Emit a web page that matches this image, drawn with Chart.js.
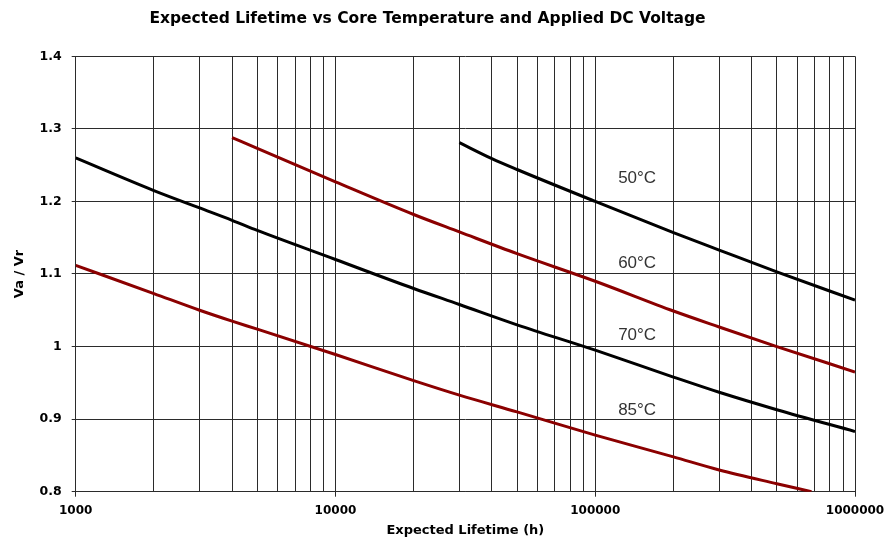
<!DOCTYPE html>
<html>
<head>
<meta charset="utf-8">
<script src="https://cdn.jsdelivr.net/npm/chart.js@4.4.1/dist/chart.umd.min.js"></script>
<style>
  html, body { margin: 0; padding: 0; background: #fff; }
  #wrap { width: 887px; height: 550px; }
</style>
</head>
<body>
<div id="wrap"><canvas id="lifetimeChart"></canvas></div>
<script>
// values: lifetime (h) -> Va/Vr
const life50 = [30000, 40000, 50000, 100000, 200000, 300000, 500000, 1000000];
const volt50 = [1.281, 1.259, 1.244, 1.200, 1.157, 1.133, 1.103, 1.064];

const life60 = [4000, 5000, 10000, 20000, 30000, 50000, 100000, 200000, 300000, 500000, 1000000];
const volt60 = [1.288, 1.273, 1.227, 1.182, 1.158, 1.128, 1.090, 1.049, 1.027, 1.000, 0.965];

const life70 = [1000, 2000, 3000, 4000, 5000, 10000, 20000, 30000, 50000, 100000, 200000, 300000, 500000, 1000000];
const volt70 = [1.260, 1.215, 1.191, 1.174, 1.160, 1.120, 1.080, 1.058, 1.030, 0.995, 0.958, 0.937, 0.913, 0.883];

const life85 = [1000, 2000, 3000, 4000, 5000, 10000, 20000, 30000, 50000, 100000, 200000, 300000, 500000, 680000];
const volt85 = [1.112, 1.073, 1.050, 1.035, 1.024, 0.989, 0.953, 0.933, 0.910, 0.878, 0.848, 0.830, 0.811, 0.800];

// labelled decades on the x axis, minor gridlines in between
const decades = [1000, 10000, 100000, 1000000];
const minorSteps = [2, 3, 4, 5, 6, 7, 8, 9];

// curve names and where they sit on the plot
const curveNames = ['50°C', '60°C', '70°C', '85°C'];
const nameLife = 145000;
const nameVolt = [1.232, 1.115, 1.016, 0.912];

const gridColor = '#2b2b2b';
const boldFont = 'DejaVu Sans';

const xGrid = [];
decades.forEach(function (d, i) {
  xGrid.push(d);
  if (i < decades.length - 1) {
    minorSteps.forEach(function (m) { xGrid.push(m * d); });
  }
});

function toPoints(xs, ys) {
  return xs.map(function (x, i) { return { x: x, y: ys[i] }; });
}

function curve(label, xs, ys, color) {
  return {
    label: label,
    data: toPoints(xs, ys),
    borderColor: color,
    borderWidth: 3,
    pointRadius: 0,
    tension: 0.4,
    cubicInterpolationMode: 'monotone',
    fill: false,
  };
}

const curveNamePlugin = {
  id: 'curveNames',
  afterDatasetsDraw(chart) {
    const ctx = chart.ctx;
    const x = chart.scales.x.getPixelForValue(nameLife);
    ctx.save();
    ctx.font = '17px "Liberation Sans", Arial, sans-serif';
    ctx.fillStyle = '#333';
    ctx.textAlign = 'center';
    ctx.textBaseline = 'middle';
    curveNames.forEach(function (name, i) {
      ctx.fillText(name, x, chart.scales.y.getPixelForValue(nameVolt[i]));
    });
    ctx.restore();
  },
};

const ctx = document.getElementById('lifetimeChart').getContext('2d');

const lifetimeChart = new Chart(ctx, {
  type: 'line',
  data: {
    datasets: [
      curve('50°C', life50, volt50, '#000000'),
      curve('60°C', life60, volt60, '#8b0000'),
      curve('70°C', life70, volt70, '#000000'),
      curve('85°C', life85, volt85, '#8b0000'),
    ],
  },
  options: {
    responsive: true,
    maintainAspectRatio: false,
    animation: false,
    layout: { padding: { left: 0, right: 32, top: 0, bottom: 0 } },
    plugins: {
      legend: { display: false },
      tooltip: { enabled: false },
      title: {
        display: true,
        text: 'Expected Lifetime vs Core Temperature and Applied DC Voltage',
        color: '#000',
        font: { family: boldFont, size: 15.5, weight: 'bold' },
        padding: { top: 9.5, bottom: 28.2 },
      },
    },
    scales: {
      x: {
        type: 'logarithmic',
        min: 1000,
        max: 1000000,
        afterBuildTicks(scale) {
          scale.ticks = xGrid.map(function (v) { return { value: v }; });
        },
        afterFit(scale) {
          scale.height = 58.3;
          // let the last label hang into the right margin
          scale.paddingRight = 0;
          scale.paddingLeft = 0;
        },
        ticks: {
          autoSkip: false,
          maxRotation: 0,
          padding: 7,
          color: '#000',
          font: { family: boldFont, size: 12, weight: 'bold' },
          callback: function (value) {
            return decades.includes(value) ? String(value) : '';
          },
        },
        grid: {
          color: gridColor,
          lineWidth: 1,
          tickLength: 5,
          tickColor: function (c) {
            return c.tick && decades.includes(c.tick.value) ? gridColor : 'rgba(0,0,0,0)';
          },
        },
        border: { color: gridColor },
        title: {
          display: true,
          text: 'Expected Lifetime (h)',
          color: '#000',
          font: { family: boldFont, size: 13, weight: 'bold' },
          padding: { top: 0, bottom: 11.2 },
        },
      },
      y: {
        type: 'linear',
        min: 0.8,
        max: 1.4,
        afterFit(scale) { scale.width = 75.7; },
        ticks: {
          stepSize: 0.1,
          padding: 10,
          color: '#000',
          font: { family: boldFont, size: 12.5, weight: 'bold' },
          callback: function (value) {
            return String(Number(value.toFixed(1)));
          },
        },
        grid: { color: gridColor, lineWidth: 1, tickLength: 4 },
        border: { color: gridColor },
        title: {
          display: true,
          text: 'Va / Vr',
          color: '#000',
          font: { family: boldFont, size: 13, weight: 'bold' },
          padding: { top: 12.2, bottom: 0 },
        },
      },
    },
  },
  plugins: [curveNamePlugin],
});
</script>
</body>
</html>
